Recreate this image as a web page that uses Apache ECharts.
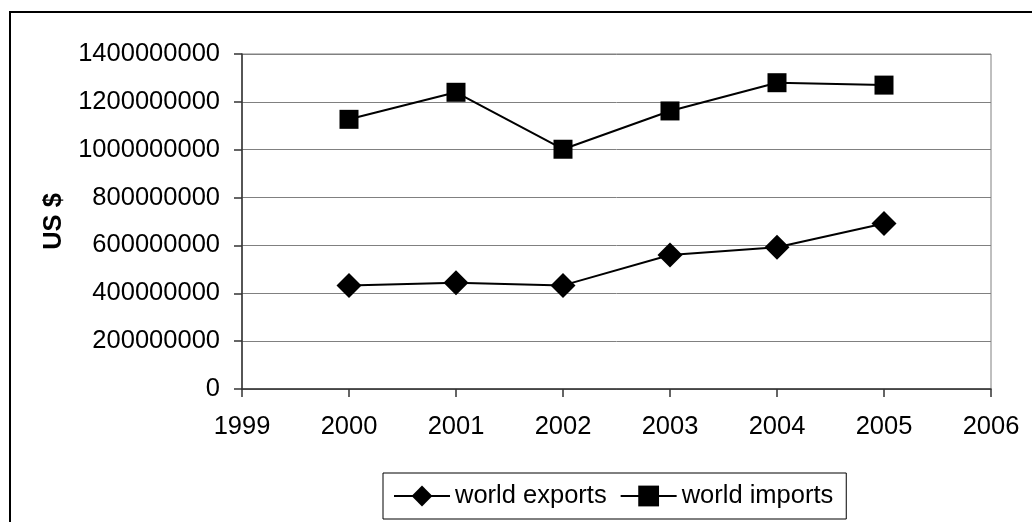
<!DOCTYPE html>
<html>
<head>
<meta charset="utf-8">
<script src="https://cdn.jsdelivr.net/npm/echarts@6/dist/echarts.min.js"></script>
<style>
html,body{margin:0;padding:0;background:#fff;}
#chart{width:1032px;height:522px;}
</style>
</head>
<body>
<div id="chart"></div>
<script>
const years = [2000, 2001, 2002, 2003, 2004, 2005];
const worldExports = [433000000, 444000000, 433000000, 560000000, 592000000, 692000000];
const worldImports = [1127000000, 1240000000, 1002000000, 1162000000, 1280000000, 1270000000];
const seriesNames = ['world exports', 'world imports'];
const yAxisName = 'US $';

const FONT = '"Liberation Sans", Arial, sans-serif';
const FS = 25.5;
const chart = echarts.init(document.getElementById('chart'), null, {renderer: 'canvas'});

function pairs(xs, ys) { return xs.map((x, i) => [x, ys[i]]); }

chart.setOption({
  animation: false,
  backgroundColor: '#fff',
  textStyle: {fontFamily: FONT},
  graphic: [{
    type: 'rect',
    shape: {x: 10, y: 12, width: 1040, height: 530},
    style: {fill: 'none', stroke: '#000', lineWidth: 2},
    z: -1
  }],
  grid: {
    left: 242, right: 41, top: 54, bottom: 133,
    show: true, borderColor: '#808080', borderWidth: 1
  },
  xAxis: {
    type: 'value', min: 1999, max: 2006, interval: 1,
    axisLine: {show: true, onZero: false, lineStyle: {color: '#333', width: 1.5}},
    axisTick: {show: true, length: 8, lineStyle: {color: '#333', width: 1.5}},
    splitLine: {show: false},
    axisLabel: {color: '#000', fontSize: FS, fontFamily: FONT, margin: 25, formatter: v => String(v)}
  },
  yAxis: {
    type: 'value', min: 0, max: 1400000000, interval: 200000000,
    name: yAxisName, nameLocation: 'middle', nameGap: 174, nameRotate: 90,
    nameTextStyle: {color: '#000', fontSize: FS, fontWeight: 'bold', fontFamily: FONT},
    axisLine: {show: true, lineStyle: {color: '#333', width: 1.5}},
    axisTick: {show: true, length: 8, lineStyle: {color: '#333', width: 1.5}},
    splitLine: {show: true, lineStyle: {color: '#808080', width: 1}},
    axisLabel: {color: '#000', fontSize: FS, fontFamily: FONT, margin: 22, formatter: v => String(v)}
  },
  legend: {
    show: true,
    left: 383, top: 473,
    orient: 'horizontal',
    data: seriesNames,
    itemWidth: 56, itemHeight: 26, itemGap: 13,
    padding: [10, 13, 10, 10],
    borderColor: '#000', borderWidth: 1,
    textStyle: {color: '#000', fontSize: FS, fontFamily: FONT}
  },
  series: [{
    name: seriesNames[0], type: 'line',
    data: pairs(years, worldExports),
    symbol: 'diamond', symbolSize: 25,
    lineStyle: {color: '#000', width: 2},
    itemStyle: {color: '#000'}
  }, {
    name: seriesNames[1], type: 'line',
    data: pairs(years, worldImports),
    symbol: 'rect', symbolSize: 19,
    lineStyle: {color: '#000', width: 2},
    itemStyle: {color: '#000'}
  }]
});
</script>
</body>
</html>
